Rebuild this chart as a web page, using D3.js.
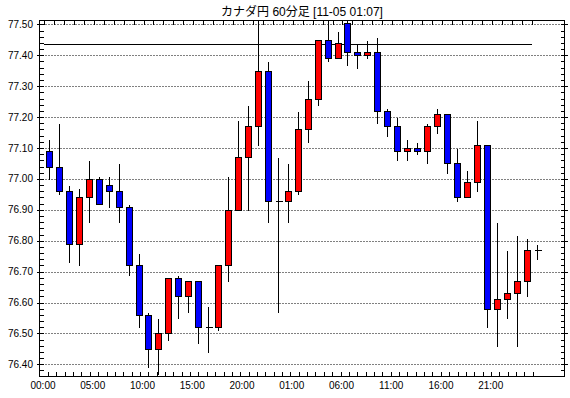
<!DOCTYPE html>
<html>
<head>
<meta charset="utf-8">
<script src="https://cdn.jsdelivr.net/npm/d3@7"></script>
<style>
    body { margin: 0; background: #fff; }
    text { font-family: "Liberation Sans", Arial, "Noto Sans CJK JP", sans-serif; }
</style>
</head>
<body>
<div id="container"></div>
<script>
"use strict";

// chart data (60 minute candles, CAD/JPY)
const title = "カナダ円 60分足 [11-05 01:07]";
const timeLabels = ["00:00", "05:00", "10:00", "15:00", "20:00", "01:00", "06:00", "11:00", "16:00", "21:00"];
const labelEvery = 5;
const priceTicks = [76.40, 76.50, 76.60, 76.70, 76.80, 76.90, 77.00, 77.10, 77.20, 77.30, 77.40, 77.50];
const refLine = 77.436;

const opens = [77.09, 77.04, 76.96, 76.79, 76.94, 77.00, 76.98, 76.96, 76.91, 76.72,
    76.56, 76.45, 76.50, 76.68, 76.62, 76.67, 76.52, 76.52, 76.72, 76.90,
    77.07, 77.17, 77.35, 76.93, 76.93, 76.96, 77.16, 77.26, 77.45, 77.39,
    77.505, 77.41, 77.40, 77.41, 77.22, 77.17, 77.09, 77.10, 77.09, 77.17,
    77.21, 77.05, 76.94, 76.99, 77.11, 76.58, 76.61, 76.63, 76.67, 76.77];
const highs = [77.13, 77.18, 76.98, 76.97, 77.06, 77.01, 77.01, 77.05, 76.92, 76.76,
    76.57, 76.55, 76.68, 76.69, 76.67, 76.67, 76.59, 76.72, 77.01, 77.19,
    77.24, 77.53, 77.38, 77.07, 77.05, 77.22, 77.32, 77.45, 77.52, 77.48,
    77.53, 77.44, 77.45, 77.46, 77.23, 77.20, 77.13, 77.12, 77.18, 77.23,
    77.21, 77.10, 77.03, 77.19, 77.11, 76.86, 76.77, 76.82, 76.81, 76.79];
const lows = [77.00, 76.95, 76.73, 76.72, 76.86, 76.92, 76.91, 76.86, 76.69, 76.52,
    76.39, 76.37, 76.48, 76.55, 76.57, 76.47, 76.44, 76.51, 76.67, 76.90,
    76.90, 77.11, 76.86, 76.57, 76.86, 76.95, 77.12, 77.24, 77.38, 77.39,
    77.37, 77.36, 77.39, 77.18, 77.14, 77.06, 77.06, 77.08, 77.05, 77.15,
    77.02, 76.93, 76.94, 76.96, 76.52, 76.46, 76.55, 76.46, 76.62, 76.74];
const closes = [77.04, 76.96, 76.79, 76.94, 77.00, 76.92, 76.96, 76.91, 76.72, 76.56,
    76.45, 76.50, 76.68, 76.62, 76.67, 76.52, 76.52, 76.72, 76.90, 77.07,
    77.17, 77.35, 76.93, 76.93, 76.96, 77.16, 77.26, 77.45, 77.39, 77.44,
    77.41, 77.40, 77.41, 77.22, 77.17, 77.09, 77.10, 77.09, 77.17, 77.21,
    77.05, 76.94, 76.99, 77.11, 76.58, 76.61, 76.63, 76.67, 76.77, 76.77];

function drawChart() {
    const width = 570, height = 398;
    // plot frame
    const left = 39.5, right = 564.5, top = 20.5, bottom = 376.5;

    const candles = opens.map((o, i) => ({
        i: i, open: o, high: highs[i], low: lows[i], close: closes[i]
    }));

    const svg = d3.select("#container")
        .append("svg")
        .attr("width", width)
        .attr("height", height)
        .style("display", "block");

    svg.append("rect")
        .attr("width", width)
        .attr("height", height)
        .attr("fill", "#fff");

    // scales
    const x = d3.scaleLinear().domain([0, 49]).range([49, 536.5]);
    const y = d3.scaleLinear().domain([76.40, 77.50]).range([364.3, 24.4]);
    const px = (v) => Math.round(x(v)) + 0.5;
    const py = (v) => Math.round(y(v)) + 0.5;

    // title
    svg.append("text")
        .attr("x", (left + right) / 2)
        .attr("y", 16)
        .attr("text-anchor", "middle")
        .style("font-size", "12px")
        .text(title);

    // dotted grid lines
    svg.append("g")
        .selectAll("line")
        .data(priceTicks)
        .join("line")
        .attr("x1", left)
        .attr("x2", right)
        .attr("y1", (d) => py(d))
        .attr("y2", (d) => py(d))
        .attr("stroke", "#000")
        .attr("stroke-dasharray", "1,2");

    // y labels
    svg.append("g")
        .selectAll("text")
        .data(priceTicks)
        .join("text")
        .attr("x", 33)
        .attr("y", (d) => y(d))
        .attr("dy", "0.35em")
        .attr("text-anchor", "end")
        .style("font-size", "10px")
        .text((d) => d.toFixed(2));

    // minor ticks on left and right edges, every 0.02
    const minor = d3.range(76.38, 77.51, 0.02);
    const ticks = svg.append("g").attr("stroke", "#000").attr("shape-rendering", "crispEdges");
    ticks.selectAll(".lt")
        .data(minor)
        .join("line")
        .attr("x1", left)
        .attr("x2", left + 4)
        .attr("y1", (d) => py(d))
        .attr("y2", (d) => py(d));
    ticks.selectAll(".rt")
        .data(minor)
        .join("line")
        .attr("class", "rt")
        .attr("x1", right - 4)
        .attr("x2", right)
        .attr("y1", (d) => py(d))
        .attr("y2", (d) => py(d));
    // major ticks poke outside the frame
    ticks.selectAll(".mt")
        .data(priceTicks)
        .join("line")
        .attr("class", "mt")
        .attr("x1", left - 3)
        .attr("x2", left)
        .attr("y1", (d) => py(d))
        .attr("y2", (d) => py(d));
    ticks.selectAll(".mr")
        .data(priceTicks)
        .join("line")
        .attr("class", "mr")
        .attr("x1", right)
        .attr("x2", right + 3)
        .attr("y1", (d) => py(d))
        .attr("y2", (d) => py(d));

    // top ticks at candle boundaries
    ticks.selectAll(".tt")
        .data(d3.range(-0.5, 49, 1))
        .join("line")
        .attr("class", "tt")
        .attr("x1", (d) => px(d))
        .attr("x2", (d) => px(d))
        .attr("y1", top)
        .attr("y2", top + 4);

    // bottom ticks
    ticks.selectAll(".bt")
        .data(d3.range(-0.1, 49, 0.84))
        .join("line")
        .attr("class", "bt")
        .attr("x1", (d) => px(d))
        .attr("x2", (d) => px(d))
        .attr("y1", bottom - 5)
        .attr("y2", bottom);

    // x labels
    svg.append("g")
        .selectAll("text")
        .data(timeLabels)
        .join("text")
        .attr("x", (d, k) => x(k * labelEvery) - 6)
        .attr("y", 389)
        .attr("text-anchor", "middle")
        .style("font-size", "10px")
        .text((d) => d);

    // reference line
    svg.append("line")
        .attr("x1", x(-0.5))
        .attr("x2", x(48.5))
        .attr("y1", py(refLine))
        .attr("y2", py(refLine))
        .attr("stroke", "#000")
        .attr("shape-rendering", "crispEdges");

    // clip candles to the frame
    svg.append("clipPath")
        .attr("id", "plot-clip")
        .append("rect")
        .attr("x", left)
        .attr("y", top)
        .attr("width", right - left)
        .attr("height", bottom - top);

    const plot = svg.append("g")
        .attr("clip-path", "url(#plot-clip)")
        .attr("shape-rendering", "crispEdges");

    // wicks
    plot.selectAll(".wick")
        .data(candles)
        .join("line")
        .attr("class", "wick")
        .attr("x1", (d) => px(d.i))
        .attr("x2", (d) => px(d.i))
        .attr("y1", (d) => py(d.high))
        .attr("y2", (d) => py(d.low))
        .attr("stroke", "#000");

    // bodies
    plot.selectAll(".body")
        .data(candles.filter((d) => d.open !== d.close))
        .join("rect")
        .attr("class", "body")
        .attr("x", (d) => px(d.i) - 3)
        .attr("y", (d) => py(Math.max(d.open, d.close)))
        .attr("width", 6)
        .attr("height", (d) => py(Math.min(d.open, d.close)) - py(Math.max(d.open, d.close)))
        .attr("fill", (d) => (d.close > d.open ? "#ff0000" : "#0000ff"))
        .attr("stroke", "#000");

    // doji
    plot.selectAll(".doji")
        .data(candles.filter((d) => d.open === d.close))
        .join("line")
        .attr("class", "doji")
        .attr("x1", (d) => px(d.i) - 3)
        .attr("x2", (d) => px(d.i) + 4)
        .attr("y1", (d) => py(d.open))
        .attr("y2", (d) => py(d.open))
        .attr("stroke", "#000");

    // frame
    svg.append("rect")
        .attr("x", left)
        .attr("y", top)
        .attr("width", right - left)
        .attr("height", bottom - top)
        .attr("fill", "none")
        .attr("stroke", "#000")
        .attr("shape-rendering", "crispEdges");
}

drawChart();
</script>
</body>
</html>
